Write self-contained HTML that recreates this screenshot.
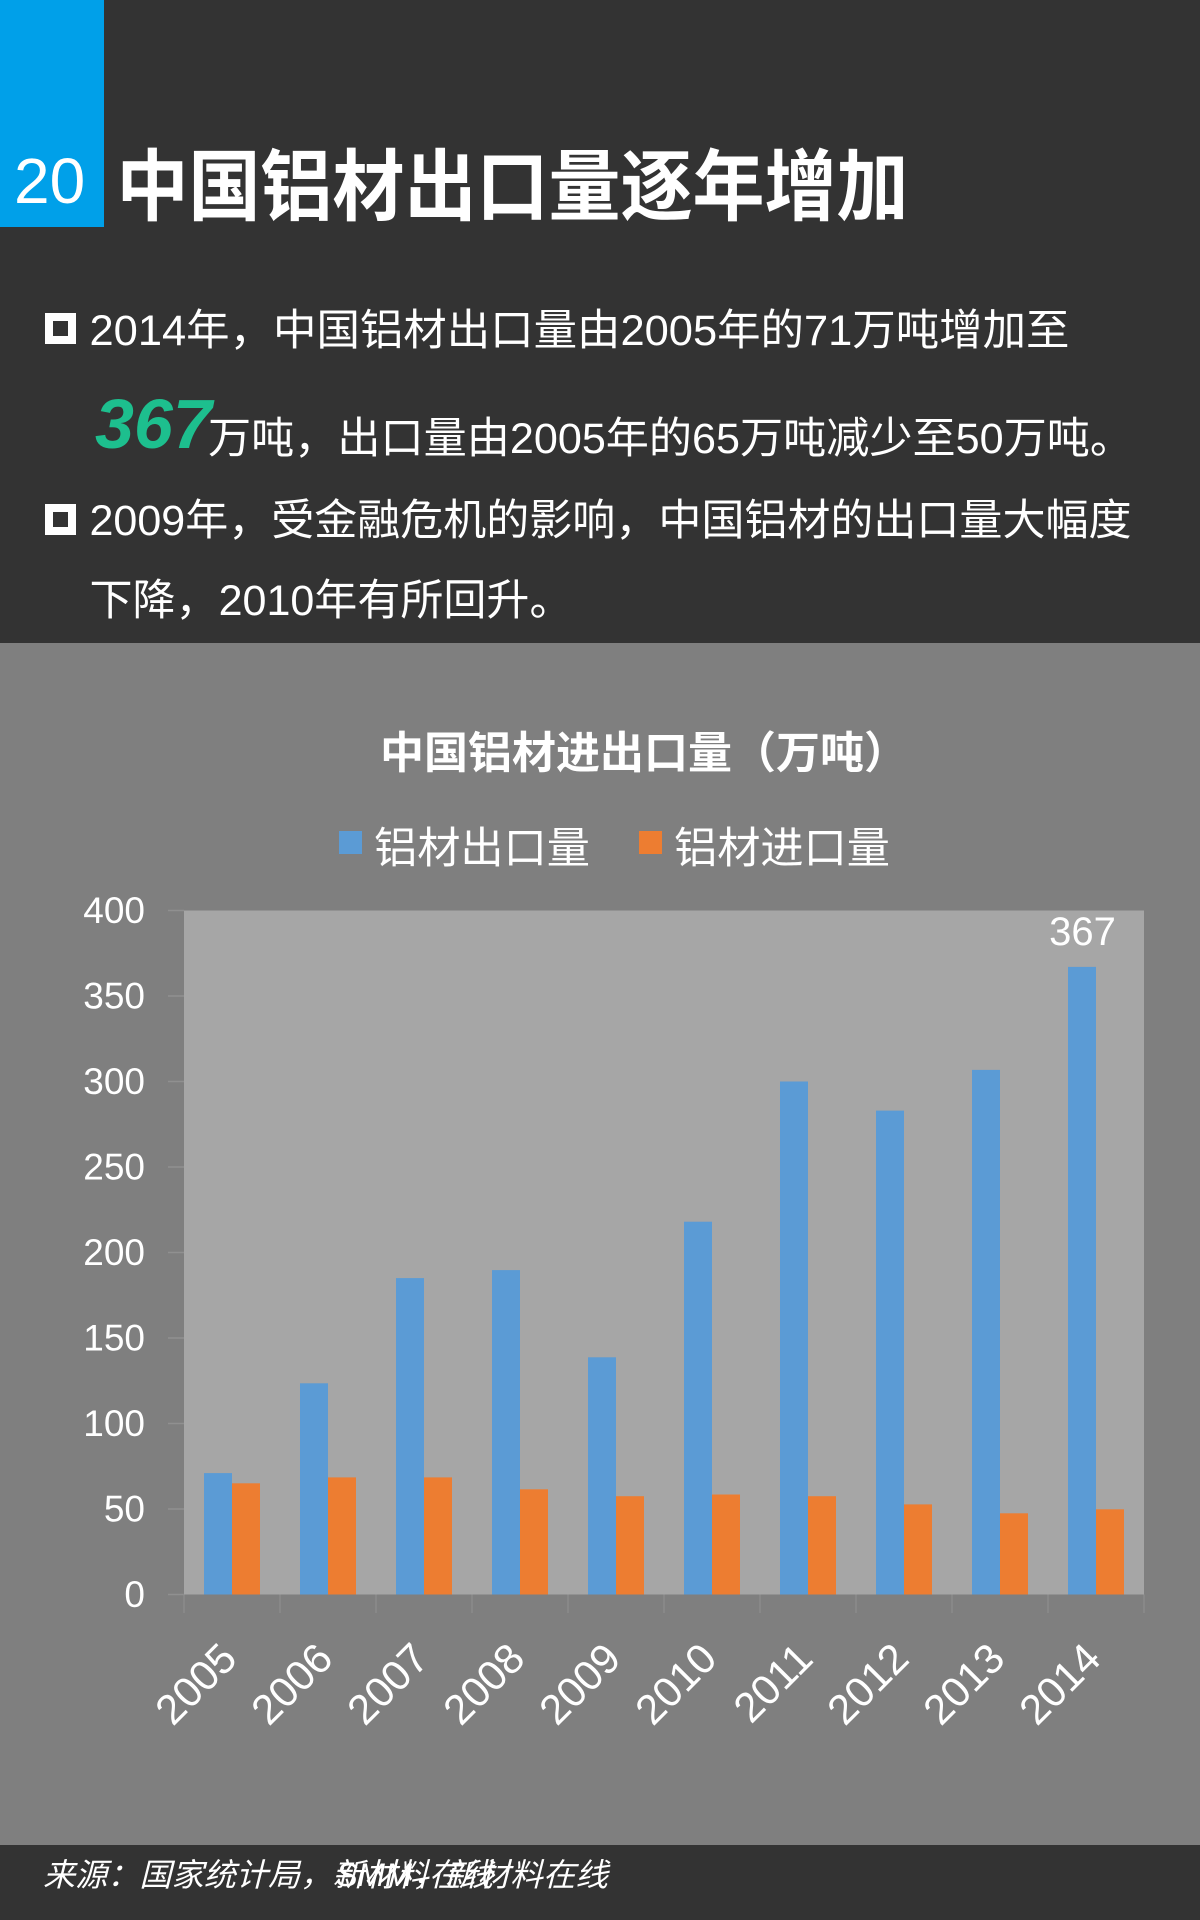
<!DOCTYPE html>
<html>
<head>
<meta charset="utf-8">
<style>
html,body{margin:0;padding:0;background:#7f7f7f;}
svg{display:block;}
text{font-family:"Liberation Sans","Noto Sans CJK SC",sans-serif;}
</style>
</head>
<body>
<svg width="1200" height="1920" viewBox="0 0 1200 1920" xmlns="http://www.w3.org/2000/svg">
  <!-- backgrounds -->
  <rect x="0" y="0" width="1200" height="643" fill="#333333"/>
  <rect x="0" y="643" width="1200" height="1202" fill="#7f7f7f"/>
  <rect x="0" y="1845" width="1200" height="75" fill="#333333"/>

  <!-- header -->
  <rect x="0" y="0" width="104" height="227" fill="#00a0e9"/>
  <text x="14" y="203" font-size="64" fill="#ffffff">20</text>
  <text x="116.5" y="214" font-size="78" font-weight="bold" fill="#ffffff" textLength="792" lengthAdjust="spacingAndGlyphs">中国铝材出口量逐年增加</text>

  <!-- bullets -->
  <rect x="49" y="317" width="23" height="23" fill="none" stroke="#ffffff" stroke-width="8"/>
  <text x="89.5" y="345" font-size="43" fill="#ffffff" textLength="980" lengthAdjust="spacingAndGlyphs">2014年，中国铝材出口量由2005年的71万吨增加至</text>

  <text x="95" y="448" font-size="70" font-weight="bold" font-style="italic" fill="#1dbf8e">367</text>
  <text x="208" y="453" font-size="43" fill="#ffffff" textLength="925" lengthAdjust="spacingAndGlyphs">万吨，出口量由2005年的65万吨减少至50万吨。</text>

  <rect x="49" y="508" width="23" height="23" fill="none" stroke="#ffffff" stroke-width="8"/>
  <text x="89.5" y="535" font-size="43" fill="#ffffff" textLength="1042" lengthAdjust="spacingAndGlyphs">2009年，受金融危机的影响，中国铝材的出口量大幅度</text>
  <text x="89.5" y="615" font-size="43" fill="#ffffff" textLength="483" lengthAdjust="spacingAndGlyphs">下降，2010年有所回升。</text>

  <!-- chart title -->
  <text x="380" y="768" font-size="44" font-weight="bold" fill="#ffffff" textLength="528" lengthAdjust="spacingAndGlyphs">中国铝材进出口量（万吨）</text>

  <!-- legend -->
  <rect x="339" y="831" width="23" height="23" fill="#5b9bd5"/>
  <text x="374" y="863" font-size="43" fill="#ffffff" textLength="216" lengthAdjust="spacingAndGlyphs">铝材出口量</text>
  <rect x="639" y="831" width="23" height="23" fill="#ed7d31"/>
  <text x="674" y="863" font-size="43" fill="#ffffff" textLength="216" lengthAdjust="spacingAndGlyphs">铝材进口量</text>

  <!-- plot area -->
  <rect x="184" y="910.5" width="960" height="684" fill="#a6a6a6"/>

  <!-- y ticks -->
  <g stroke="#909090" stroke-width="1.5">
    <line x1="168" y1="1594.5" x2="184" y2="1594.5"/>
    <line x1="168" y1="1509" x2="184" y2="1509"/>
    <line x1="168" y1="1423.5" x2="184" y2="1423.5"/>
    <line x1="168" y1="1338" x2="184" y2="1338"/>
    <line x1="168" y1="1252.5" x2="184" y2="1252.5"/>
    <line x1="168" y1="1167" x2="184" y2="1167"/>
    <line x1="168" y1="1081.5" x2="184" y2="1081.5"/>
    <line x1="168" y1="996" x2="184" y2="996"/>
    <line x1="168" y1="910.5" x2="184" y2="910.5"/>
  </g>
  <!-- x ticks -->
  <g stroke="#8c8c8c" stroke-width="1.5">
    <line x1="184" y1="1594.5" x2="184" y2="1613"/>
    <line x1="280" y1="1594.5" x2="280" y2="1613"/>
    <line x1="376" y1="1594.5" x2="376" y2="1613"/>
    <line x1="472" y1="1594.5" x2="472" y2="1613"/>
    <line x1="568" y1="1594.5" x2="568" y2="1613"/>
    <line x1="664" y1="1594.5" x2="664" y2="1613"/>
    <line x1="760" y1="1594.5" x2="760" y2="1613"/>
    <line x1="856" y1="1594.5" x2="856" y2="1613"/>
    <line x1="952" y1="1594.5" x2="952" y2="1613"/>
    <line x1="1048" y1="1594.5" x2="1048" y2="1613"/>
    <line x1="1144" y1="1594.5" x2="1144" y2="1613"/>
  </g>

  <!-- y labels -->
  <g font-size="37" fill="#ffffff" text-anchor="end">
    <text x="145" y="1607">0</text>
    <text x="145" y="1521.6">50</text>
    <text x="145" y="1436">100</text>
    <text x="145" y="1350.6">150</text>
    <text x="145" y="1265">200</text>
    <text x="145" y="1179.6">250</text>
    <text x="145" y="1094">300</text>
    <text x="145" y="1008.6">350</text>
    <text x="145" y="923">400</text>
  </g>

  <!-- export bars -->
  <g fill="#5b9bd5">
    <rect x="204" y="1473.1" width="28" height="121.4"/>
    <rect x="300" y="1383.3" width="28" height="211.2"/>
    <rect x="396" y="1278.1" width="28" height="316.4"/>
    <rect x="492" y="1270.1" width="28" height="324.4"/>
    <rect x="588" y="1357.3" width="28" height="237.2"/>
    <rect x="684" y="1221.7" width="28" height="372.8"/>
    <rect x="780" y="1081.5" width="28" height="513"/>
    <rect x="876" y="1110.6" width="28" height="483.9"/>
    <rect x="972" y="1069.9" width="28" height="524.6"/>
    <rect x="1068" y="966.9" width="28" height="627.6"/>
  </g>
  <!-- import bars -->
  <g fill="#ed7d31">
    <rect x="232" y="1483.3" width="28" height="111.2"/>
    <rect x="328" y="1477.4" width="28" height="117.1"/>
    <rect x="424" y="1477.4" width="28" height="117.1"/>
    <rect x="520" y="1489.3" width="28" height="105.2"/>
    <rect x="616" y="1496.2" width="28" height="98.3"/>
    <rect x="712" y="1494.5" width="28" height="100"/>
    <rect x="808" y="1496.2" width="28" height="98.3"/>
    <rect x="904" y="1504.4" width="28" height="90.1"/>
    <rect x="1000" y="1513.3" width="28" height="81.2"/>
    <rect x="1096" y="1509.3" width="28" height="85.2"/>
  </g>

  <!-- data label -->
  <text x="1082.5" y="945" font-size="40" fill="#ffffff" text-anchor="middle">367</text>

  <!-- x labels -->
  <g font-size="42" fill="#ffffff" text-anchor="end">
    <text x="239" y="1661" transform="rotate(-45 239 1661)">2005</text>
    <text x="335" y="1661" transform="rotate(-45 335 1661)">2006</text>
    <text x="431" y="1661" transform="rotate(-45 431 1661)">2007</text>
    <text x="527" y="1661" transform="rotate(-45 527 1661)">2008</text>
    <text x="623" y="1661" transform="rotate(-45 623 1661)">2009</text>
    <text x="719" y="1661" transform="rotate(-45 719 1661)">2010</text>
    <text x="815" y="1661" transform="rotate(-45 815 1661)">2011</text>
    <text x="911" y="1661" transform="rotate(-45 911 1661)">2012</text>
    <text x="1007" y="1661" transform="rotate(-45 1007 1661)">2013</text>
    <text x="1103" y="1661" transform="rotate(-45 1103 1661)">2014</text>
  </g>

  <!-- footer -->
  <text x="43" y="1886" font-size="32" font-style="italic" fill="#ffffff" textLength="450" lengthAdjust="spacingAndGlyphs">来源：国家统计局，新材料在线</text>
  <text x="336" y="1886" font-size="32" font-style="italic" fill="#ffffff" textLength="272" lengthAdjust="spacingAndGlyphs">SMM，新材料在线</text>
</svg>
</body>
</html>
